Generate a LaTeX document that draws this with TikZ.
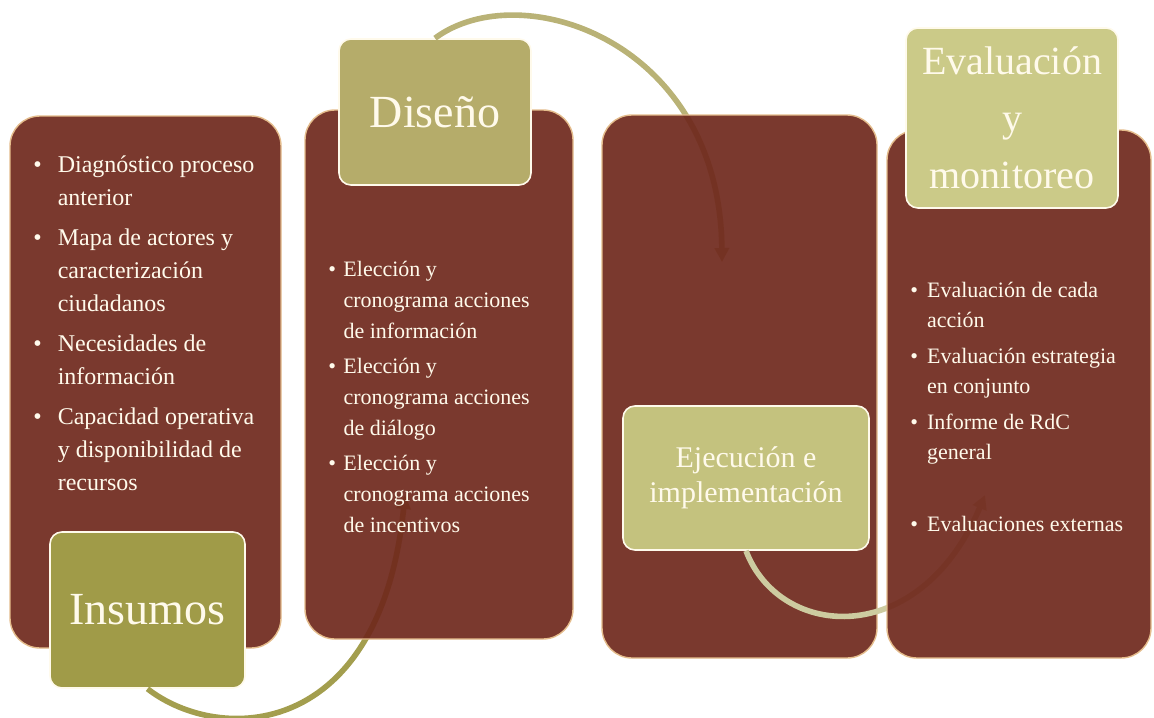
\documentclass[tikz,border=0pt]{standalone}
\usepackage{fontspec}
\setmainfont{Liberation Serif}
\usepackage{tikz}
\usetikzlibrary{arrows.meta}

\definecolor{boxbrown}{RGB}{111,40,28}
\definecolor{boxedge}{RGB}{228,188,140}
\definecolor{cream}{RGB}{255,250,235}
\definecolor{oliveA}{RGB}{160,155,72}
\definecolor{oliveB}{RGB}{181,172,106}
\definecolor{oliveC}{RGB}{196,194,126}
\definecolor{oliveD}{RGB}{203,202,136}
\definecolor{flowA}{RGB}{163,158,78}
\definecolor{flowB}{RGB}{185,178,118}
\definecolor{flowC}{RGB}{205,203,160}

\begin{document}
\begin{tikzpicture}[x=0.5pt,y=-0.5pt,
    bigbox/.style={rectangle, rounded corners=15pt, fill=boxbrown, fill opacity=0.92,
        draw=boxedge, line width=0.7pt, inner sep=0pt},
    stage/.style={rectangle, rounded corners=6pt, draw=cream, line width=0.8pt,
        text=cream, align=center, inner sep=0pt},
    items/.style={anchor=north west, text=cream, align=left, inner sep=0pt},
    flow/.style={line width=2.8pt, -{Triangle[length=7pt,width=7pt]}}]
\useasboundingbox (0,0) rectangle (1154,717);

\node[bigbox, minimum width=135.5pt, minimum height=266pt] (box1) at (145.5,382) {};
\node[items, font=\fontsize{12}{16.5}\selectfont] (insumostxt) at (33,149) {%
  \begin{tabular}{@{}l@{\hspace{8pt}}l@{}}
  \textbullet & Diagnóstico proceso\\
  & anterior\\[3.5pt]
  \textbullet & Mapa de actores y\\
  & caracterización\\
  & ciudadanos\\[3.5pt]
  \textbullet & Necesidades de\\
  & información\\[3.5pt]
  \textbullet & Capacidad operativa\\
  & y disponibilidad de\\
  & recursos
  \end{tabular}};
\node[stage, fill=oliveA, minimum width=97.5pt, minimum height=78pt,
      font=\fontsize{23}{27}\selectfont] (insumos) at (147.5,610) {Insumos};

\coordinate (insumosend) at (405,495);
\draw[flow, flowA] (insumos.south) .. controls (220,745) and (380,740) .. (insumosend);

\node[bigbox, minimum width=134pt, minimum height=264.5pt] (box2) at (439,374.5) {};
\node[items, font=\fontsize{11}{15.5}\selectfont] (disenotxt) at (328,254) {%
  \begin{tabular}{@{}l@{\hspace{3.7pt}}l@{}}
  \textbullet & Elección y\\
  & cronograma acciones\\
  & de información\\[2pt]
  \textbullet & Elección y\\
  & cronograma acciones\\
  & de diálogo\\[2pt]
  \textbullet & Elección y\\
  & cronograma acciones\\
  & de incentivos
  \end{tabular}};
\node[stage, fill=oliveB, minimum width=96pt, minimum height=73pt,
      font=\fontsize{23}{27}\selectfont] (diseno) at (435,112) {Diseño};

\coordinate (disenoend) at (722,262);
\draw[flow, flowB] (diseno.north) .. controls (520,-25) and (720,40) .. (disenoend);

\node[bigbox, minimum width=137.5pt, minimum height=271.5pt] (box3) at (739.5,386.5) {};
\node[stage, fill=oliveC, minimum width=123pt, minimum height=72pt,
      font=\fontsize{15}{17.5}\selectfont] (ejecucion) at (746,478) {Ejecución e\\implementación};

\coordinate (ejecucionend) at (985,495);
\draw[flow, flowC] (ejecucion.south) .. controls (780,640) and (920,650) .. (ejecucionend);

\node[bigbox, minimum width=132pt, minimum height=264pt] (box4) at (1019,394) {};
\node[items, font=\fontsize{11}{15}\selectfont] (evaluaciontxt) at (910,276) {%
  \begin{tabular}{@{}l@{\hspace{4.5pt}}l@{}}
  \textbullet & Evaluación de cada\\
  & acción\\[3pt]
  \textbullet & Evaluación estrategia\\
  & en conjunto\\[3pt]
  \textbullet & Informe de RdC\\
  & general\\[21pt]
  \textbullet & Evaluaciones externas
  \end{tabular}};
\node[stage, fill=oliveD, minimum width=106pt, minimum height=90pt,
      font=\fontsize{20}{28.5}\selectfont] (evaluacion) at (1012,118) {Evaluación\\y\\monitoreo};
\end{tikzpicture}
\end{document}
